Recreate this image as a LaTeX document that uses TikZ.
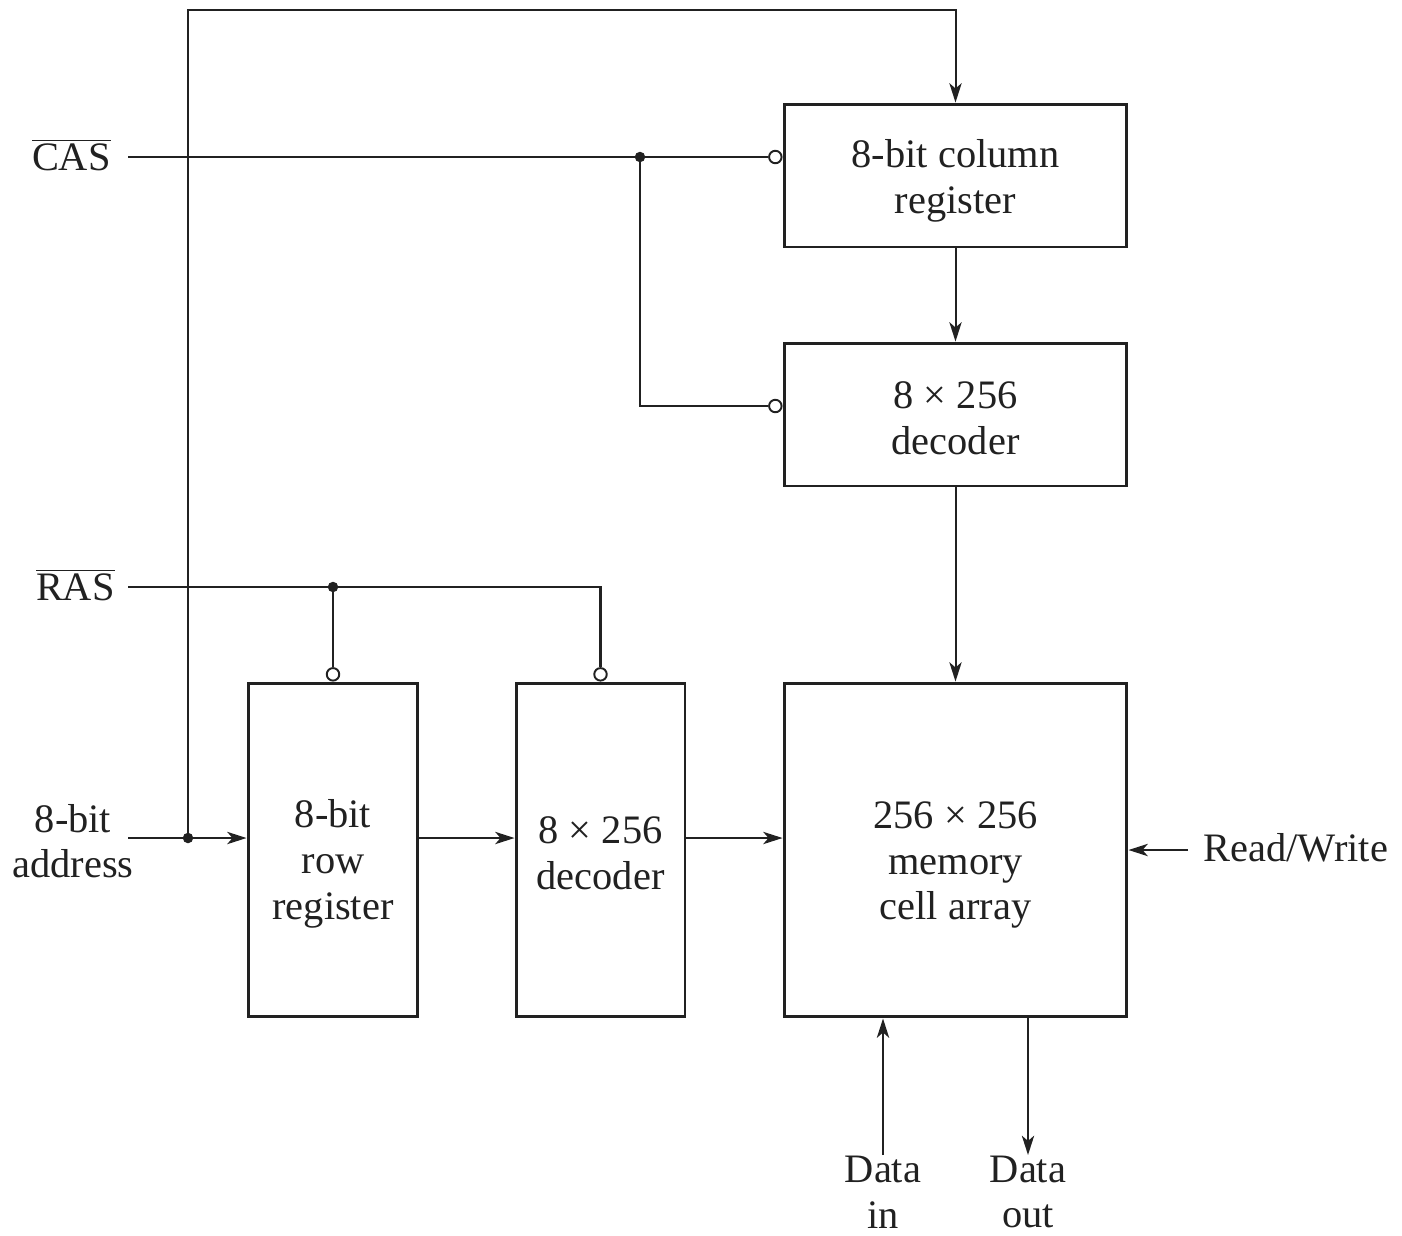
\documentclass[tikz,border=0pt]{standalone}
\usepackage{fontspec}
\setmainfont{Liberation Serif}
\usetikzlibrary{positioning,arrows.meta,calc}
\definecolor{ink}{gray}{0.13}
\tikzset{
  blk/.style={draw=ink, line width=1.7pt, inner sep=0pt},
  wire/.style={draw=ink, line width=1.15pt},
  flow/.style={wire, -{Stealth[length=11pt, width=7pt, inset=3pt]}},
  bubble/.style={circle, draw=ink, line width=1.1pt, fill=white, inner sep=0pt, minimum size=2.5mm},
  dot/.style={circle, fill=ink, inner sep=0pt, minimum size=2.1mm},
  lbl/.style={align=center, inner sep=0pt},
}

\begin{document}
\begin{tikzpicture}[x=0.02cm, y=-0.02cm,
    every node/.style={font=\fontsize{23}{26}\selectfont, text=ink}]
  \useasboundingbox (0,0) rectangle (1402,1235);

  % rows of the wires
  \coordinate (topy) at (0,10);
  \coordinate (casy) at (0,157);
  \coordinate (rasy) at (0,587);
  \coordinate (adry) at (0,838);

  % blocks
  \node[blk, minimum width=6.86cm, minimum height=2.86cm] (colreg) at (955.5,175.5) {};
  \node[blk, minimum width=6.86cm, minimum height=2.86cm] (coldec) at (955.5,414.5) {};
  \node[blk, minimum width=6.86cm, minimum height=6.68cm] (mem)    at (955.5,850)   {};
  \node[blk, minimum width=3.4cm,  minimum height=6.68cm] (rowreg) at (333,850)     {};
  \node[blk, minimum width=3.38cm, minimum height=6.68cm] (rowdec) at (600.5,850)   {};
  \node[lbl] (colregtxt) at ($(colreg)+(0,5)$)  {8-bit column\\register};
  \node[lbl] (coldectxt) at ($(coldec)+(0,4)$)  {8 × 256\\decoder};
  \node[lbl] (memtxt)    at ($(mem)+(0,15)$)    {256 × 256\\memory\\cell array};
  \node[lbl] (rowregtxt) at ($(rowreg)+(0,14)$) {8-bit\\row\\register};
  \node[lbl] (rowdectxt) at ($(rowdec)+(0,3)$)  {8 × 256\\decoder};

  % inputs
  \node[lbl, anchor=base east] (cas) at (111,170) {\ensuremath{\overline{\mbox{CAS}}}};
  \node[lbl, anchor=base east] (ras) at (115,600) {\ensuremath{\overline{\mbox{RAS}}}};
  \node[lbl] (adr) at (73,841) {8-bit\\address};
  \node[lbl, anchor=west] (rw) at (1203,848) {Read/Write};
  \node[lbl] (dinl)  at (883,1192)  {Data\\in};
  \node[lbl] (doutl) at (1028,1192) {Data\\out};
  \coordinate (casin) at (128,157);
  \coordinate (rasin) at (128,587);
  \coordinate (adrin) at (128,838);
  \coordinate (rwin)  at (1188,850);
  \coordinate (din)   at (883,1155);
  \coordinate (dout)  at (1028,1155);

  % strobes
  \node[bubble, anchor=east]  (cbub1) at (colreg.west |- casy) {};
  \node[bubble, anchor=east]  (cbub2) at ($(coldec.west)+(0,-8.5)$) {};
  \node[bubble, anchor=south] (rbub1) at (rowreg.north) {};
  \node[bubble, anchor=south] (rbub2) at (rowdec.north) {};
  \node[dot] (cdot) at (640,157) {};
  \node[dot] (rdot) at (333,587) {};
  \node[dot] (adot) at (188,838) {};

  \draw[wire] (casin) -- (cbub1.west);
  \draw[wire] (cdot.center) |- (cbub2.west);
  \draw[wire] (rasin) -| (rbub2.north);
  \draw[wire] (rdot.center) -- (rbub1.north);

  \draw[flow] (adot.center) -- (adot |- topy) -| (colreg.north);
  \draw[flow] (colreg) -- (coldec);
  \draw[flow] (coldec) -- (mem);
  \draw[flow] (adrin) -- (rowreg.west |- adry);
  \draw[flow] (rowreg.east |- adry) -- (rowdec.west |- adry);
  \draw[flow] (rowdec.east |- adry) -- (mem.west |- adry);
  \draw[flow] (rwin) -- (mem.east);
  \draw[flow] (din) -- (din |- mem.south);
  \draw[flow] (mem.south -| dout) -- (dout);
\end{tikzpicture}
\end{document}
